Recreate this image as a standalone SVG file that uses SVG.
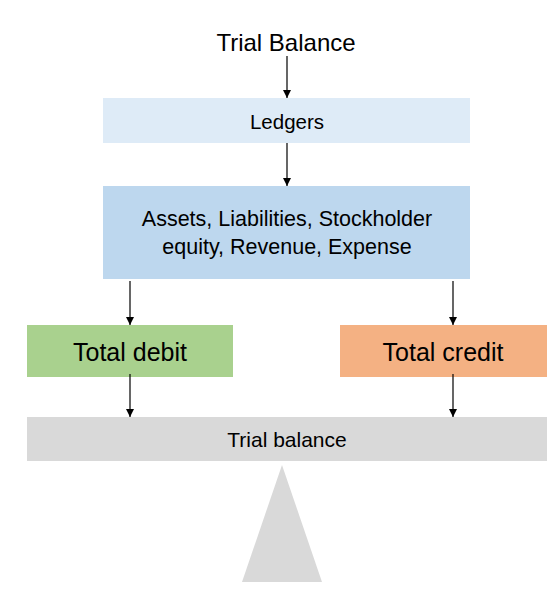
<svg xmlns="http://www.w3.org/2000/svg" width="559" height="594" viewBox="0 0 559 594">
<defs>
<marker id="arr" viewBox="0 0 10 10" refX="10" refY="5" markerWidth="8" markerHeight="8" markerUnits="userSpaceOnUse" orient="auto">
<path d="M0,0 L10,5 L0,10 z" fill="#000"/>
</marker>
</defs>
<style>
text{font-family:"Liberation Sans",Arial,sans-serif;fill:#000;text-anchor:middle}
.c{stroke:#000;stroke-width:1.2;fill:none;marker-end:url(#arr)}
</style>
<rect width="559" height="594" fill="#fff"/>
<g id="title"><text x="286" y="51" font-size="24">Trial Balance</text></g>
<g id="ledgers"><rect x="103" y="98" width="367" height="45" fill="#DEEBF7"/><text x="287" y="129" font-size="20.5">Ledgers</text></g>
<g id="accounts"><rect x="103" y="186" width="367" height="93" fill="#BDD7EE"/><text x="287" y="226" font-size="21.5">Assets, Liabilities, Stockholder</text><text x="287" y="254" font-size="21.5">equity, Revenue, Expense</text></g>
<g id="debit"><rect x="27" y="325" width="206" height="52" fill="#A9D18E"/><text x="130" y="361" font-size="25">Total debit</text></g>
<g id="credit"><rect x="340" y="325" width="207" height="52" fill="#F4B183"/><text x="443" y="361" font-size="25">Total credit</text></g>
<g id="trialbalance"><rect x="27" y="417" width="520" height="44" fill="#D9D9D9"/><text x="287" y="447" font-size="21">Trial balance</text></g>
<g id="fulcrum"><polygon points="282,465 242,582 322,582" fill="#D9D9D9"/></g>
<g id="connectors">
<line class="c" x1="287" y1="56" x2="287" y2="98"/>
<line class="c" x1="287" y1="143" x2="287" y2="186"/>
<line class="c" x1="130" y1="281" x2="130" y2="325"/>
<line class="c" x1="453" y1="281" x2="453" y2="325"/>
<line class="c" x1="130" y1="374" x2="130" y2="417"/>
<line class="c" x1="453" y1="374" x2="453" y2="417"/>
</g>
</svg>
